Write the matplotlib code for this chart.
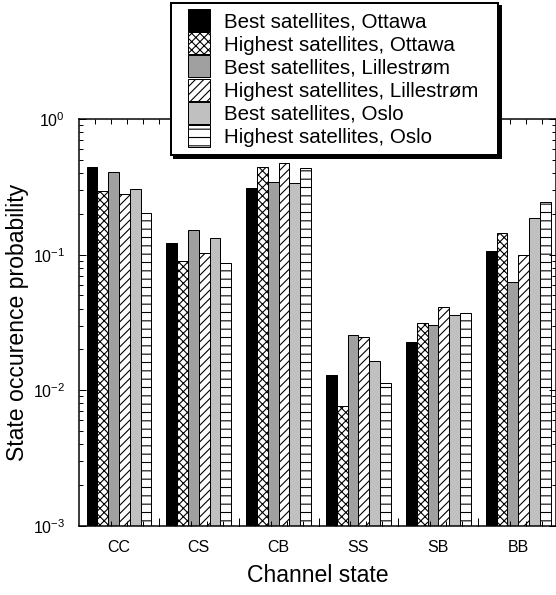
import matplotlib
matplotlib.use("Agg")
import matplotlib.pyplot as plt
import numpy as np
from matplotlib.patches import Rectangle
from matplotlib.legend_handler import HandlerPatch
from matplotlib.ticker import FixedLocator, LogLocator, FuncFormatter, NullFormatter

# Channel states on the x axis
states = ["CC", "CS", "CB", "SS", "SB", "BB"]

# State occurrence probabilities per configuration
best_ottawa = [0.444, 0.121, 0.308, 0.0130, 0.0226, 0.106]
highest_ottawa = [0.294, 0.0898, 0.444, 0.00766, 0.0311, 0.143]
best_lillestrom = [0.405, 0.152, 0.340, 0.0257, 0.0302, 0.0625]
highest_lillestrom = [0.279, 0.102, 0.471, 0.0246, 0.0409, 0.0989]
best_oslo = [0.306, 0.133, 0.338, 0.0164, 0.0357, 0.185]
highest_oslo = [0.202, 0.0873, 0.435, 0.0113, 0.0372, 0.243]

series_labels = [
    "Best satellites, Ottawa",
    "Highest satellites, Ottawa",
    "Best satellites, Lillestrøm",
    "Highest satellites, Lillestrøm",
    "Best satellites, Oslo",
    "Highest satellites, Oslo",
]
y_tick_values = [1e-3, 1e-2, 1e-1, 1e0]

series_values = [best_ottawa, highest_ottawa, best_lillestrom,
                 highest_lillestrom, best_oslo, highest_oslo]
series_styles = [
    dict(color="black", hatch=None),
    dict(color="white", hatch="xxxx"),
    dict(color="#a0a0a0", hatch=None),
    dict(color="white", hatch="////"),
    dict(color="#c0c0c0", hatch=None),
    dict(color="white", hatch="--"),
]

DPI = 100
PX = 72.0 / DPI  # points per pixel

plt.rcParams["font.family"] = ["Liberation Sans", "DejaVu Sans"]
plt.rcParams["hatch.linewidth"] = 1.1 * PX
plt.rcParams["hatch.color"] = "black"

fig = plt.figure(figsize=(556.2 / DPI, 595.2 / DPI), dpi=DPI)
ax = fig.add_axes([79 / 556, (595 - 526) / 595, (555.5 - 79) / 556, (526 - 119) / 595])

x = np.arange(len(states))
w = 0.135
containers = []
for k, (vals, label, st) in enumerate(zip(series_values, series_labels, series_styles)):
    bc = ax.bar(x + (k - 2.5) * w, vals, width=w, color=st["color"], hatch=st["hatch"],
                edgecolor="black", linewidth=1.0 * PX, label=label)
    containers.append(bc)

ax.set_yscale("log")
ax.set_ylim(y_tick_values[0], y_tick_values[-1])
ax.set_xlim(-0.5, 5.47)

# y axis: decades with minor ticks
ax.yaxis.set_major_locator(FixedLocator(y_tick_values))
ax.yaxis.set_major_formatter(FuncFormatter(
    lambda v, pos: r"$\mathregular{10^{%d}}$" % int(round(np.log10(v)))))
ax.yaxis.set_minor_locator(LogLocator(base=10, subs=np.arange(2, 10)))
ax.yaxis.set_minor_formatter(NullFormatter())

# x axis: category labels at group centres, fine ticks every 0.2
ax.set_xticks(x, states)
ax.xaxis.set_minor_locator(FixedLocator(np.arange(-3, 55, 2) / 10.0))

ax.tick_params(which="both", direction="in", top=True, right=True,
               width=1.0 * PX, colors="black")
ax.tick_params(axis="y", which="major", length=7 * PX, labelsize=16 * PX, pad=14 * PX)
ax.tick_params(axis="y", which="minor", length=4 * PX)
ax.tick_params(axis="x", which="major", length=0, labelsize=16 * PX, pad=14 * PX)
ax.tick_params(axis="x", which="minor", length=5 * PX)

# longer ticks at the group boundaries
sec = ax.secondary_xaxis("bottom")
sec.set_xticks(x + 0.5)
sec.tick_params(direction="in", length=8 * PX, width=1.0 * PX, labelbottom=False)
sec.spines["bottom"].set_visible(False)

for s in ax.spines.values():
    s.set_linewidth(1.5 * PX)
    s.set_color("black")

ax.set_xlabel("Channel state", fontsize=23 * PX, labelpad=9 * PX)
ax.set_ylabel("State occurence probability", fontsize=23 * PX, labelpad=4 * PX)


# legend swatches: 22 px squares sitting at the right of a wider handle box
def square_swatch(legend, orig_handle, xdescent, ydescent, width, height, fontsize):
    side = 22 * PX
    return Rectangle((width - side - xdescent, (height - side) / 2 - ydescent), side, side)


handles = [bc.patches[0] for bc in containers]
fs = 20.5
leg = fig.legend(handles, series_labels, loc="upper left",
                 bbox_to_anchor=(171 / 556, 592 / 595, 327 / 556, 0.0),
                 bbox_transform=fig.transFigure, mode="expand",
                 borderaxespad=0, fontsize=fs * PX, fancybox=False, framealpha=1,
                 edgecolor="black", handlelength=31 / fs, handleheight=22 / fs,
                 handletextpad=14 / fs, labelspacing=0.12, borderpad=0.38,
                 handler_map={Rectangle: HandlerPatch(patch_func=square_swatch)},
                 shadow=dict(ox=3 * PX, oy=-3 * PX, facecolor="black",
                             edgecolor="black", alpha=1))
leg.get_frame().set_linewidth(2 * PX)

fig.savefig("out.png", dpi=DPI)
